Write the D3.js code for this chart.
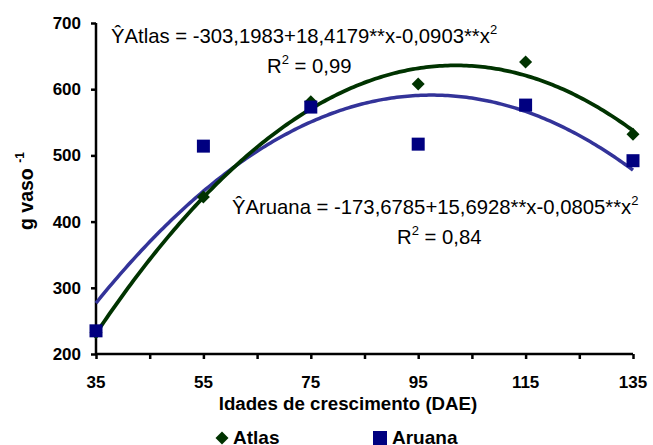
<!DOCTYPE html>
<html>
<head>
<meta charset="utf-8">
<script src="https://cdn.jsdelivr.net/npm/d3@7"></script>
<style>
  body { margin: 0; background: #fff; }
  text { font-family: Arial, "Liberation Sans", sans-serif; }
</style>
</head>
<body>
<script>
// data
const days = [35, 55, 75, 95, 115, 135];
const atlas = [232, 437, 581, 608, 641, 532];
const aruana = [235, 514, 573, 517, 576, 492];
const xTicks = [35, 55, 75, 95, 115, 135];
const yTicks = [200, 300, 400, 500, 600, 700];
// trend coefficients as printed on the chart (a + b x + c x^2)
const atlasFit = [-303.1983, 18.4179, -0.0903];
const aruanaFit = [-173.6785, 15.6928, -0.0805];

const width = 653, height = 445;
const margin = {top: 23, right: 16, bottom: 91, left: 96};
const innerW = width - margin.left - margin.right;
const innerH = height - margin.top - margin.bottom;

const svg = d3.select("body").append("svg")
    .attr("width", width)
    .attr("height", height);

const g = svg.append("g")
    .attr("transform", `translate(${margin.left},${margin.top})`);

const x = d3.scaleLinear().domain([35, 135]).range([0, innerW - 4]);
const y = d3.scaleLinear().domain([200, 700]).range([innerH, 0]);

// axes
const xAxis = g.append("g")
    .attr("transform", `translate(0,${innerH})`)
    .call(d3.axisBottom(x).tickValues(d3.range(35, 136, 10)).tickSize(5).tickFormat(""));
xAxis.selectAll("text").remove();
xAxis.selectAll("line, path").attr("stroke", "#000").attr("stroke-width", 2.5);
xAxis.select("path").attr("d", `M0,0H${x(135)}`);

g.selectAll(".xlab").data(xTicks).enter().append("text")
    .attr("x", d => x(d))
    .attr("y", innerH + 34)
    .attr("text-anchor", "middle")
    .style("font-size", "17px").style("font-weight", "bold")
    .text(d => d);

const yAxis = g.append("g")
    .call(d3.axisLeft(y).tickValues(yTicks).tickSize(5).tickFormat(""));
yAxis.selectAll("line, path").attr("stroke", "#000").attr("stroke-width", 2.5);
yAxis.select("path").attr("d", `M0,${innerH}V0`);

g.selectAll(".ylab").data(yTicks).enter().append("text")
    .attr("x", -15)
    .attr("y", d => y(d) + 6)
    .attr("text-anchor", "end")
    .style("font-size", "17px").style("font-weight", "bold")
    .text(d => d);

// axis titles
svg.append("text")
    .attr("x", 348).attr("y", 410)
    .attr("text-anchor", "middle")
    .style("font-size", "18.7px").style("font-weight", "bold")
    .text("Idades de crescimento (DAE)");

const yt = svg.append("text")
    .attr("transform", "translate(33,230) rotate(-90)")
    .attr("text-anchor", "start")
    .style("font-size", "19.5px").style("font-weight", "bold");
yt.append("tspan").text("g vaso ");
yt.append("tspan").attr("dy", -9).style("font-size", "12px").text("-1");

// trend curves
const quad = c => v => c[0] + c[1] * v + c[2] * v * v;
const xs = d3.range(35, 135.01, 0.5);
const line = f => d3.line().x(d => x(d)).y(d => y(f(d)));

g.append("path").datum(xs)
    .attr("d", line(quad(aruanaFit)))
    .attr("fill", "none").attr("stroke", "#333399").attr("stroke-width", 3.5);
g.append("path").datum(xs)
    .attr("d", line(quad(atlasFit)))
    .attr("fill", "none").attr("stroke", "#003300").attr("stroke-width", 3.8);

// points
const diamond = d3.symbol().type(d3.symbolDiamond2).size(108);
g.selectAll(".atlas").data(days).enter().append("path")
    .attr("transform", (d, i) => `translate(${x(d)},${y(atlas[i])})`)
    .attr("d", diamond)
    .attr("fill", "#003300");

const sq = 13;
g.selectAll(".aruana").data(days).enter().append("rect")
    .attr("x", d => x(d) - sq / 2)
    .attr("y", (d, i) => y(aruana[i]) - sq / 2)
    .attr("width", sq).attr("height", sq)
    .attr("fill", "#000080");

// equations
function eq(xp, yp, name, body) {
    const t = svg.append("text").attr("x", xp).attr("y", yp).style("font-size", "20.3px");
    t.append("tspan").text("Ŷ" + name + " = " + body + "x");
    t.append("tspan").attr("dy", -9).style("font-size", "13px").text("2");
}
function r2(xp, yp, val) {
    const t = svg.append("text").attr("x", xp).attr("y", yp).style("font-size", "20.3px");
    t.append("tspan").text("R");
    t.append("tspan").attr("dy", -9).style("font-size", "13px").text("2");
    t.append("tspan").attr("dy", 9).text(" = " + val);
}
eq(111, 43, "Atlas", "-303,1983+18,4179**x-0,0903**");
r2(267, 73, "0,99");
eq(232, 214, "Aruana", "-173,6785+15,6928**x-0,0805**");
r2(397, 244, "0,84");

// legend
const lg = svg.append("g");
lg.append("path")
    .attr("transform", "translate(222,438)")
    .attr("d", diamond)
    .attr("fill", "#003300");
lg.append("text").attr("x", 233).attr("y", 444)
    .style("font-size", "19px").style("font-weight", "bold").text("Atlas");
lg.append("rect").attr("x", 373).attr("y", 431).attr("width", 14).attr("height", 14)
    .attr("fill", "#000080");
lg.append("text").attr("x", 392).attr("y", 444)
    .style("font-size", "19px").style("font-weight", "bold").text("Aruana");
</script>
</body>
</html>
